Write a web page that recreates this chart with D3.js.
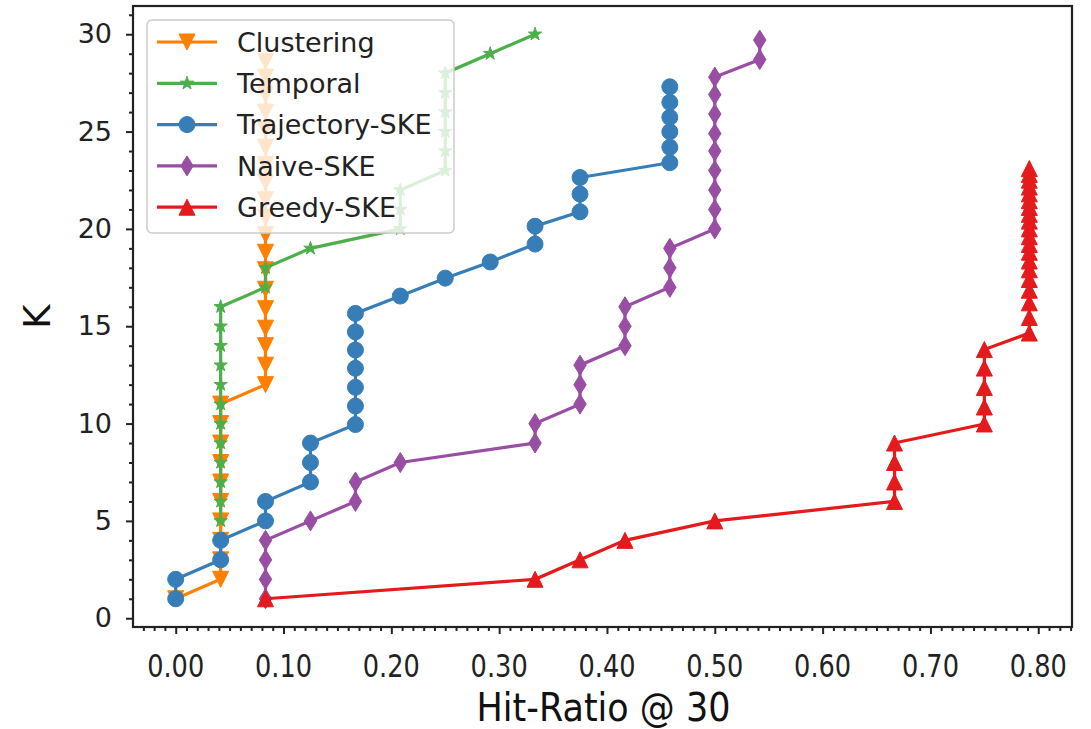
<!DOCTYPE html>
<html><head><meta charset="utf-8">
<script src="https://cdn.jsdelivr.net/npm/d3@7"></script>
<style>body{margin:0;background:#fff}svg{display:block}text{font-family:"DejaVu Sans",sans-serif}</style>
</head><body><svg id="c" width="1091" height="729"></svg>
<script>
// ---- data ----
const seriesNames = ["Clustering","Temporal","Trajectory-SKE","Naive-SKE","Greedy-SKE"];
const xTicks = [0,0.1,0.2,0.3,0.4,0.5,0.6,0.7,0.8];
const yTicks = [0,5,10,15,20,25,30];

const clusteringX = [0,0.0417,0.0417,0.0417,0.0417,0.0417,0.0417,0.0417,0.0417,0.0417,0.0417,
  0.0833,0.0833,0.0833,0.0833,0.0833,0.0833,0.0833,0.0833,0.0833,0.0833,0.0833,0.0833,0.0833,0.0833,0.0833,0.0833,0.0833,0.0833,0.0833];
const clusteringY = [1,2,3,4,5,6,7,8,9,10,11,12,13,14,14.9,15.9,16.9,17.9,18.8,19.7,20.6,21.5,22.4,23.3,24.2,25.1,26,26.9,27.8,28.6];

const temporalX = [0.0417,0.0417,0.0417,0.0417,0.0417,0.0417,0.0417,0.0417,0.0417,0.0417,0.0417,0.0417,
  0.0833,0.0833,0.125,0.2083,0.2083,0.2083,0.25,0.25,0.25,0.25,0.25,0.25,0.2917,0.3333];
const temporalY = [5,6,7,8,9,10,11,12,13,14,15,16,17,18,19,20,21,22,23,24,25,26,27,28,29,30];

const trajectoryX = [0,0,0.0417,0.0417,0.0833,0.0833,0.125,0.125,0.125,
  0.1667,0.1667,0.1667,0.1667,0.1667,0.1667,0.1667,0.2083,0.25,0.2917,0.3333,0.3333,
  0.375,0.375,0.375,0.4583,0.4583,0.4583,0.4583,0.4583,0.4583];
const trajectoryY = [1,2,3,4,5,6,7,8,9,9.95,10.9,11.86,12.84,13.78,14.71,15.66,16.55,17.47,18.3,19.22,20.14,
  20.88,21.79,22.64,23.4,24.19,24.99,25.73,26.5,27.3];

const naiveX = [0.0833,0.0833,0.0833,0.0833,0.125,0.1667,0.1667,0.2083,0.3333,0.3333,
  0.375,0.375,0.375,0.4167,0.4167,0.4167,0.4583,0.4583,0.4583,
  0.5,0.5,0.5,0.5,0.5,0.5,0.5,0.5,0.5,0.5417,0.5417];
const naiveY = [1,2,3,4,5,6,7,8,9,10,11,12,13,14,15,16,17,18,19,20,21,22,23,24,24.9,25.9,26.9,27.8,28.7,29.7];

const greedyX = [0.0833,0.3333,0.375,0.4167,0.5,0.6667,0.6667,0.6667,0.6667,
  0.75,0.75,0.75,0.75,0.75,
  0.7917,0.7917,0.7917,0.7917,0.7917,0.7917,0.7917,0.7917,0.7917,0.7917,
  0.7917,0.7917,0.7917,0.7917,0.7917,0.7917,0.7917,0.7917,0.7917,0.7917];
const greedyY = [1,2,3,4,5,6,7,8,9,9.98,10.85,11.85,12.85,13.8,
  14.65,15.45,16.2,16.85,17.4,17.9,18.35,18.8,19.2,19.6,20.0,20.4,20.75,21.1,21.45,21.8,22.15,22.5,22.8,23.1];

const colors = ["#ff7f00","#4daf4a","#377eb8","#984ea3","#e41a1c"];
const markers = ["tridown","star","circle","thindiamond","triup"];

// ---- layout ----
const L=133,R=1072,T=6,B=627;
const svg=d3.select("#c");
const x=d3.scaleLinear().domain([-0.0396,0.8313]).range([L,R]);
const y=d3.scaleLinear().domain([-0.45,31.45]).range([B,T]);

function markerPath(type){
  if(type==="circle") return d3.symbol(d3.symbolCircle, Math.PI*8*8)();
  if(type==="triup") return "M0,-8L8,8L-8,8Z";
  if(type==="tridown") return "M0,8L8,-8L-8,-8Z";
  if(type==="thindiamond") return "M0,-10L6.2,0L0,10L-6.2,0Z";
  if(type==="star"){
    const ro=7, ri=ro*0.382; let p="";
    for(let i=0;i<10;i++){const r=i%2?ri:ro;const a=Math.PI*i/5-Math.PI/2;p+=(i?"L":"M")+(r*Math.cos(a)).toFixed(2)+","+(r*Math.sin(a)).toFixed(2);}
    return p+"Z";
  }
}

const data=[[clusteringX,clusteringY],[temporalX,temporalY],[trajectoryX,trajectoryY],[naiveX,naiveY],[greedyX,greedyY]];

const plot=svg.append("g");
const line=d3.line().x(d=>x(d[0])).y(d=>y(d[1]));
data.forEach((s,i)=>{
  const pts=s[0].map((v,j)=>[v,s[1][j]]);
  const g=plot.append("g");
  g.append("path").attr("d",line(pts)).attr("fill","none").attr("stroke",colors[i]).attr("stroke-width",3.2);
  g.selectAll("path.m").data(pts).join("path").attr("class","m")
    .attr("d",markerPath(markers[i])).attr("transform",d=>`translate(${x(d[0])},${y(d[1])})`)
    .attr("fill",colors[i]).attr("stroke",colors[i]).attr("stroke-width",1);
});

// frame
svg.append("rect").attr("x",L).attr("y",T).attr("width",R-L).attr("height",B-T).attr("fill","none").attr("stroke","#222").attr("stroke-width",2.2);

// axes
const fmt=d3.format(".2f");
const xAxis=svg.append("g").attr("transform",`translate(0,${B})`)
  .call(d3.axisBottom(x).tickValues(xTicks).tickFormat("").tickSize(7));
xAxis.select(".domain").remove();
const xMinor=d3.range(-3,84).map(v=>v/100).filter(v=>xTicks.every(t=>Math.abs(t-v)>1e-6));
svg.append("g").attr("transform",`translate(0,${B})`).call(d3.axisBottom(x).tickValues(xMinor).tickFormat("").tickSize(4))
  .call(g=>g.select(".domain").remove());
// x tick labels (slightly condensed / stretched like the reference)
svg.append("g").selectAll("text").data(xTicks).join("text")
  .attr("transform",d=>`translate(${x(d)},677) scale(0.95,1.15)`)
  .attr("text-anchor","middle").attr("font-size",27).attr("fill","#222").text(fmt);

const yAxis=svg.append("g").attr("transform",`translate(${L},0)`)
  .call(d3.axisLeft(y).tickValues(yTicks).tickSize(7).tickPadding(14));
yAxis.select(".domain").remove();
yAxis.selectAll("text").attr("font-size",27).attr("fill","#222");
const yMinor=d3.range(0,32).filter(v=>v%5!==0);
svg.append("g").attr("transform",`translate(${L},0)`).call(d3.axisLeft(y).tickValues(yMinor).tickFormat("").tickSize(4))
  .call(g=>g.select(".domain").remove());
svg.selectAll(".tick line").attr("stroke","#222").attr("stroke-width",2);

// axis labels
svg.append("text").attr("transform",`translate(${(L+R)/2+1},721) scale(1,1.1)`).attr("text-anchor","middle").attr("font-size",35).attr("fill","#111").text("Hit-Ratio @ 30");
svg.append("text").attr("transform",`translate(50,${(T+B)/2}) rotate(-90)`).attr("text-anchor","middle").attr("font-size",37).attr("fill","#111").text("K");

// legend
const lg=svg.append("g");
lg.append("rect").attr("x",147).attr("y",20).attr("width",307).attr("height",213).attr("rx",5)
  .attr("fill","#fff").attr("fill-opacity",0.8).attr("stroke","#ccc").attr("stroke-width",1.5);
seriesNames.forEach((n,i)=>{
  const cy=42+i*41.3;
  lg.append("line").attr("x1",157).attr("x2",217).attr("y1",cy).attr("y2",cy).attr("stroke",colors[i]).attr("stroke-width",3.2);
  lg.append("path").attr("d",markerPath(markers[i])).attr("transform",`translate(187,${cy})`).attr("fill",colors[i]).attr("stroke",colors[i]);
  lg.append("text").attr("x",237).attr("y",cy).attr("dy","0.36em").attr("font-size",27).attr("fill","#222").text(n);
});
</script></body></html>
